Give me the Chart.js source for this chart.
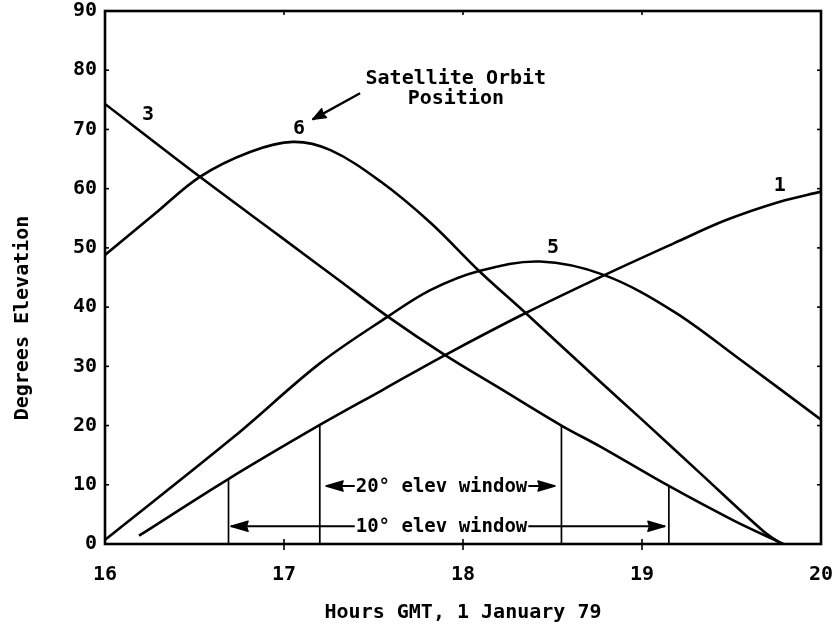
<!DOCTYPE html>
<html><head><meta charset="utf-8">
<script src="https://cdn.jsdelivr.net/npm/chart.js@4.4.1/dist/chart.umd.min.js"></script>
<style>html,body{margin:0;padding:0;background:#fff}#wrap{width:835px;height:632px;position:relative}</style>
</head><body><div id="wrap"><canvas id="c"></canvas></div>
<script>
// ---- data (hours GMT, degrees elevation) ----
const xTickValues = [16, 17, 18, 19, 20];
const yTickValues = [0, 10, 20, 30, 40, 50, 60, 70, 80, 90];

const sat1Hours = [16.19, 16.68, 17.2, 17.55, 17.9, 18.35, 18.79, 19.18, 19.47, 19.77, 20];
const sat1Elev  = [1.4, 10.8, 20.1, 26.0, 31.9, 39.0, 45.4, 50.8, 54.7, 57.8, 59.5];

const sat3Hours = [16, 16.53, 16.98, 17.3, 17.58, 17.9, 18.2, 18.55, 18.77, 19.15, 19.51, 19.79];
const sat3Elev  = [74.3, 62.0, 51.9, 44.7, 38.4, 31.9, 26.4, 20.0, 16.4, 9.8, 4.0, 0];

const sat5Hours = [16, 16.72, 17.2, 17.58, 17.82, 18.09, 18.43, 18.79, 19.18, 19.55, 20];
const sat5Elev  = [0.7, 18.1, 30.5, 38.4, 42.9, 46.1, 47.7, 45.4, 39.2, 31.1, 21.0];

const sat6Hours = [16, 16.28, 16.53, 16.81, 17.05, 17.26, 17.54, 17.82, 18.09, 18.35, 18.77, 19.0, 19.32, 19.68, 19.77];
const sat6Elev  = [48.8, 55.8, 62.0, 66.2, 67.9, 66.5, 61.2, 54.2, 46.1, 39.0, 27.3, 21.0, 12.1, 2.1, 0.2];

const curveLabels = ['3', '6', '5', '1'];
const curveLabelX = [16.24, 17.084, 18.503, 19.77];
const curveLabelY = [72.4, 70.1, 50.0, 60.5];

const windowX   = [16.69, 17.2, 18.55, 19.15];
const windowTop = [10.9, 20.1, 20.0, 9.9];

const windowText   = ['20° elev window', '10° elev window'];
const windowFromX  = [17.235, 16.704];
const windowToX    = [18.514, 19.128];
const windowLevel  = [9.8, 3.0];
const windowTextX  = 17.88;

const noteLines = ['Satellite Orbit', 'Position'];
const noteX = 17.96;
const noteY = [78.6, 75.1];
const noteArrowFrom = {x: 17.425, y: 76.1};
const noteArrowTo   = {x: 17.16,  y: 71.7};

const FONT = '"DejaVu Sans Mono", monospace';

function pts(xs, ys) { return xs.map((x, i) => ({x: x, y: ys[i]})); }
function curve(label, xs, ys) {
  return {label: label, data: pts(xs, ys), borderColor: '#000', borderWidth: 2.6,
          pointRadius: 0, tension: 0.35, fill: false};
}
const datasets = [
  curve('1', sat1Hours, sat1Elev),
  curve('3', sat3Hours, sat3Elev),
  curve('5', sat5Hours, sat5Elev),
  curve('6', sat6Hours, sat6Elev)
];
windowX.forEach((x, i) => datasets.push({label: 'win' + i, data: [{x: x, y: 0}, {x: x, y: windowTop[i]}],
  borderColor: '#000', borderWidth: 1.7, pointRadius: 0, tension: 0}));
windowText.forEach((t, i) => datasets.push({label: 'arrow' + i,
  data: [{x: windowFromX[i], y: windowLevel[i]}, {x: windowToX[i], y: windowLevel[i]}],
  borderColor: '#000', borderWidth: 1.9, pointRadius: 0, tension: 0}));
datasets.push({label: 'noteArrow', data: [noteArrowFrom, noteArrowTo], borderColor: '#000',
  borderWidth: 2.3, pointRadius: 0, tension: 0});

function arrowHead(ctx, tx, ty, fx, fy, len, half) {
  const a = Math.atan2(ty - fy, tx - fx);
  ctx.save();
  ctx.translate(tx, ty); ctx.rotate(a);
  ctx.beginPath();
  ctx.moveTo(0, 0);
  ctx.lineTo(-len, -half);
  ctx.lineTo(-len * 0.9, 0);
  ctx.lineTo(-len, half);
  ctx.closePath();
  ctx.fillStyle = '#000'; ctx.fill();
  ctx.lineJoin = 'round'; ctx.lineWidth = 1.5; ctx.strokeStyle = '#000'; ctx.stroke();
  ctx.restore();
}

const decor = {
  id: 'decor',
  afterDatasetsDraw(chart) {
    const {ctx, chartArea: a, scales: {x, y}} = chart;
    ctx.save();
    // frame
    ctx.strokeStyle = '#000'; ctx.lineWidth = 2.6;
    ctx.strokeRect(a.left, a.top, a.right - a.left, a.bottom - a.top);
    // ticks
    ctx.lineWidth = 1.6;
    xTickValues.slice(1, -1).forEach(v => {
      const px = x.getPixelForValue(v);
      ctx.beginPath(); ctx.moveTo(px, a.bottom - 5); ctx.lineTo(px, a.bottom + 6); ctx.stroke();
      ctx.beginPath(); ctx.moveTo(px, a.top); ctx.lineTo(px, a.top + 4); ctx.stroke();
    });
    yTickValues.slice(1, -1).forEach(v => {
      const py = y.getPixelForValue(v);
      ctx.beginPath(); ctx.moveTo(a.left, py); ctx.lineTo(a.left + 4, py); ctx.stroke();
      ctx.beginPath(); ctx.moveTo(a.right - 4, py); ctx.lineTo(a.right, py); ctx.stroke();
    });
    ctx.fillStyle = '#000';
    ctx.textAlign = 'center'; ctx.textBaseline = 'middle';
    // curve labels
    ctx.font = 'bold 20px ' + FONT;
    curveLabels.forEach((t, i) => ctx.fillText(t, x.getPixelForValue(curveLabelX[i]), y.getPixelForValue(curveLabelY[i])));
    // window labels with white gap
    ctx.font = 'bold 19px ' + FONT;
    windowText.forEach((t, i) => {
      const cx = x.getPixelForValue(windowTextX), cy = y.getPixelForValue(windowLevel[i]);
      const w = ctx.measureText(t).width;
      ctx.fillStyle = '#fff'; ctx.fillRect(cx - w / 2 - 1, cy - 9, w + 2, 18);
      ctx.fillStyle = '#000'; ctx.fillText(t, cx, cy + 1);
      const l = x.getPixelForValue(windowFromX[i]), r = x.getPixelForValue(windowToX[i]);
      arrowHead(ctx, l, cy, r, cy, 17, 5);
      arrowHead(ctx, r, cy, l, cy, 17, 5);
    });
    // note
    ctx.font = 'bold 20px ' + FONT;
    noteLines.forEach((t, i) => ctx.fillText(t, x.getPixelForValue(noteX), y.getPixelForValue(noteY[i])));
    arrowHead(ctx, x.getPixelForValue(noteArrowTo.x), y.getPixelForValue(noteArrowTo.y),
              x.getPixelForValue(noteArrowFrom.x), y.getPixelForValue(noteArrowFrom.y), 13, 5);
    // y title
    ctx.font = 'bold 20px ' + FONT;
    ctx.translate(23, 318); ctx.rotate(-Math.PI / 2);
    ctx.fillText('Degrees Elevation', 0, 0);
    ctx.restore();
  }
};

new Chart(document.getElementById('c'), {
  type: 'line',
  data: {datasets: datasets},
  options: {
    responsive: true, maintainAspectRatio: false, animation: false,
    layout: {padding: {top: 11, right: 14, left: 0, bottom: 0}},
    plugins: {legend: {display: false}, tooltip: {enabled: false}},
    scales: {
      x: {type: 'linear', min: 16, max: 20,
          afterFit: s => { s.height = 88; s.paddingLeft = 0; s.paddingRight = 0; },
          afterBuildTicks: s => { s.ticks = xTickValues.map(v => ({value: v})); },
          grid: {display: false, drawTicks: false}, border: {display: false},
          ticks: {color: '#000', font: {family: FONT, size: 20, weight: 'bold'}, padding: 19, maxRotation: 0},
          title: {display: true, text: 'Hours GMT, 1 January 79', color: '#000',
                  font: {family: FONT, size: 20, weight: 'bold'}, padding: {top: 0, bottom: 7}}},
      y: {type: 'linear', min: 0, max: 90,
          afterFit: s => { s.width = 105; s.paddingTop = 0; s.paddingBottom = 0; },
          afterBuildTicks: s => { s.ticks = yTickValues.map(v => ({value: v})); },
          grid: {display: false, drawTicks: false}, border: {display: false},
          ticks: {color: '#000', font: {family: FONT, size: 20, weight: 'bold'}, padding: 8}}
    }
  },
  plugins: [decor]
});
</script></body></html>
